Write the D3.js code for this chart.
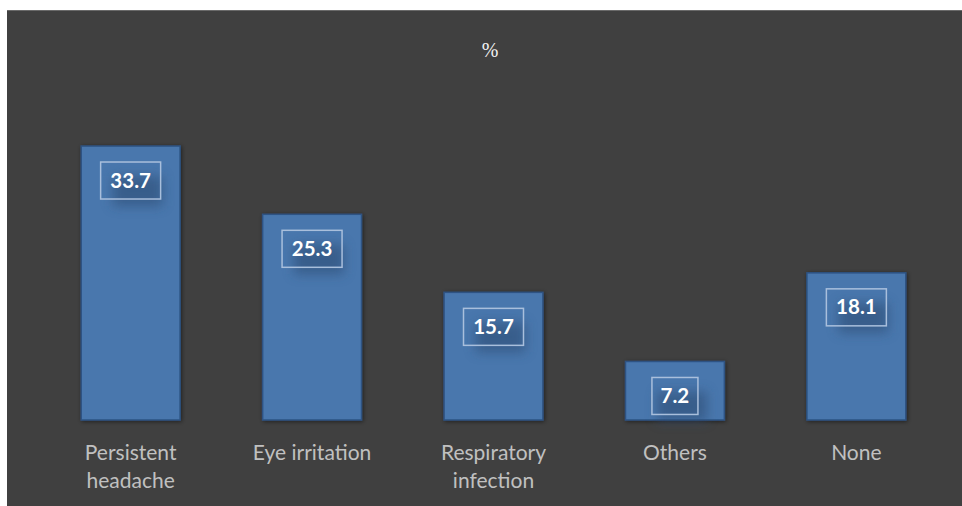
<!DOCTYPE html>
<html>
<head>
<meta charset="utf-8">
<script src="https://cdn.jsdelivr.net/npm/d3@7"></script>
<style>
  html, body { margin: 0; padding: 0; background: #ffffff; }
  svg { display: block; }
</style>
</head>
<body>
<svg id="chart" width="962" height="506"></svg>
<script>
// Reported symptoms (% of respondents)
const categories = [["Persistent", "headache"], ["Eye irritation"], ["Respiratory", "infection"], ["Others"], ["None"]];
const values = [33.7, 25.3, 15.7, 7.2, 18.1];
const title = "%";

const W = 962, H = 506;
const svg = d3.select("#chart");

const defs = svg.append("defs");
const sh = defs.append("filter").attr("id", "labelShade")
  .attr("x", "-50%").attr("y", "-50%").attr("width", "200%").attr("height", "200%");
sh.append("feGaussianBlur").attr("stdDeviation", 6);
const barShadow = defs.append("filter").attr("id", "barShadow")
  .attr("x", "-20%").attr("y", "-20%").attr("width", "140%").attr("height", "140%");
barShadow.append("feGaussianBlur").attr("in", "SourceAlpha").attr("stdDeviation", 2).attr("result", "b");
barShadow.append("feOffset").attr("dx", 1).attr("dy", 1).attr("result", "o");
barShadow.append("feComponentTransfer").append("feFuncA").attr("type", "linear").attr("slope", 0.5);
const m = barShadow.append("feMerge");
m.append("feMergeNode");
m.append("feMergeNode").attr("in", "SourceGraphic");

// chart area background
svg.append("rect").attr("x", 7).attr("y", 10).attr("width", W - 7).attr("height", H - 10)
  .attr("fill", "#404040");
svg.append("line").attr("x1", 7).attr("x2", W).attr("y1", 10.5).attr("y2", 10.5)
  .attr("stroke", "#6a6a6a").attr("stroke-width", 1);

const x = d3.scaleBand().domain(d3.range(values.length)).range([40, 947]).paddingInner(0.455).paddingOuter(0.227);
const y = d3.scaleLinear().domain([0, 40]).range([420, 420 - 40 * 8.13]);

svg.append("text").attr("x", 490).attr("y", 57).attr("text-anchor", "middle")
  .attr("font-family", "'Liberation Serif', 'Times New Roman', serif").attr("font-size", 20)
  .attr("fill", "#f2f2f2").text(title);

const g = svg.append("g");
g.selectAll("rect.bar").data(values).join("rect").attr("class", "bar")
  .attr("x", (d, i) => x(i)).attr("width", x.bandwidth())
  .attr("y", d => y(d)).attr("height", d => y(0) - y(d))
  .attr("fill", "#4a77ad").attr("stroke", "#2d5283").attr("stroke-width", 1.5)
  .attr("filter", "url(#barShadow)");

// value labels
const lab = g.selectAll("g.lab").data(values).join("g").attr("class", "lab")
  .attr("transform", (d, i) => `translate(${x(i) + x.bandwidth() / 2},${y(d) + 34})`);
lab.append("rect").attr("x", -18).attr("y", -4).attr("width", 50).attr("height", 30)
  .attr("fill", "#2c4a70").attr("opacity", 0.55).attr("filter", "url(#labelShade)");
lab.append("rect").attr("x", d => -(String(d).length > 3 ? 30 : 23)).attr("y", -18)
  .attr("width", d => String(d).length > 3 ? 60 : 46).attr("height", 37)
  .attr("fill", "none").attr("stroke", "#a9bfdc").attr("stroke-width", 1.5);
lab.append("text").attr("text-anchor", "middle").attr("y", 7.5)
  .attr("font-family", "Lato, 'Open Sans', sans-serif").attr("font-weight", "bold").attr("font-size", 20.5)
  .attr("fill", "#ffffff").text(d => d.toFixed(1));

// category labels
const cl = svg.selectAll("text.cat").data(categories).join("text").attr("class", "cat")
  .attr("x", (d, i) => x(i) + x.bandwidth() / 2).attr("y", 460)
  .attr("text-anchor", "middle").attr("font-family", "Lato, 'Open Sans', sans-serif")
  .attr("font-size", 21).attr("fill", "#c0c0c0");
cl.selectAll("tspan").data(d => d).join("tspan")
  .attr("x", function () { return d3.select(this.parentNode).attr("x"); })
  .attr("dy", (d, j) => j === 0 ? 0 : 28).text(d => d);
</script>
</body>
</html>
